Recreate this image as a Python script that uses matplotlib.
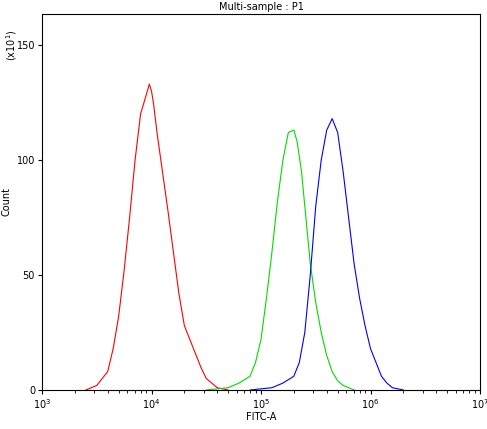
import matplotlib
matplotlib.use("Agg")
import matplotlib.pyplot as plt
import numpy as np

# log10(FITC-A), count (x10)
red_x = [3.4, 3.5, 3.6, 3.65, 3.7, 3.75, 3.8, 3.85, 3.9, 3.95, 3.98, 4.0, 4.02, 4.05, 4.1, 4.15, 4.2, 4.25, 4.3, 4.35, 4.4, 4.45, 4.5, 4.55, 4.6, 4.7]
red_y = [0, 2, 8, 18, 32, 52, 75, 100, 120, 128, 133, 130, 124, 112, 95, 78, 60, 42, 28, 22, 16, 10, 5, 3, 1, 0]
green_x = [4.5, 4.7, 4.8, 4.9, 4.95, 5.0, 5.05, 5.1, 5.15, 5.2, 5.25, 5.3, 5.33, 5.37, 5.4, 5.45, 5.5, 5.55, 5.6, 5.65, 5.7, 5.75, 5.85]
green_y = [0, 1, 3, 6, 12, 22, 40, 60, 82, 100, 112, 113, 108, 95, 80, 55, 38, 25, 15, 8, 4, 2, 0]
blue_x = [4.9, 5.1, 5.2, 5.3, 5.35, 5.4, 5.45, 5.5, 5.55, 5.6, 5.65, 5.7, 5.75, 5.8, 5.85, 5.9, 5.95, 6.0, 6.05, 6.1, 6.15, 6.2, 6.3]
blue_y = [0, 1, 3, 6, 12, 25, 50, 80, 100, 113, 118, 112, 95, 75, 55, 40, 28, 18, 12, 6, 3, 1, 0]

fig = plt.figure(figsize=(4.87, 4.29), dpi=100)
ax = fig.add_axes([42/487, 39/429, 438/487, 376/429])
for xs, ys, c in [(red_x, red_y, "red"), (green_x, green_y, "#00dd00"), (blue_x, blue_y, "blue")]:
    ax.plot(10 ** np.array(xs), ys, color=c, lw=0.8)

ax.set_xscale("log")
ax.set_xlim(1e3, 1e7)
ax.set_ylim(0, 163.5)
ax.set_yticks([0, 50, 100, 150])
ax.tick_params(labelsize=7, direction="out", length=3, pad=2)
ax.tick_params(which="minor", length=2)
ax.set_xlabel("FITC-A", fontsize=7, labelpad=1)
ax.set_ylabel("Count", fontsize=7, labelpad=4)
ax.set_title("Multi-sample : P1", fontsize=7, pad=3)
fig.text(4/487, 1 - 45/429, r"(x10$^1$)", rotation=90, fontsize=7, va="center")

fig.savefig("out.png", dpi=100)
